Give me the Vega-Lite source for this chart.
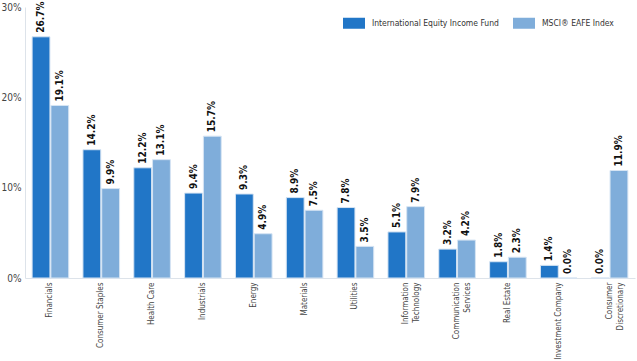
{
  "$schema": "https://vega.github.io/schema/vega-lite/v6.json",
  "autosize": "none",
  "width": 610,
  "height": 271,
  "padding": {"left": 25, "top": 7, "right": 2, "bottom": 83},
  "background": "white",
  "config": {
    "view": {"stroke": null},
    "font": "DejaVu Sans Condensed, Roboto, sans-serif",
    "axis": {"labelFont": "DejaVu Sans Condensed, Roboto, sans-serif", "labelColor": "#444", "labelFontSize": 8}
  },
  "data": {
    "values": [
      {"sector": "Financials", "series": "International Equity Income Fund", "value": 0.267},
      {"sector": "Financials", "series": "MSCI® EAFE Index", "value": 0.191},
      {"sector": "Consumer Staples", "series": "International Equity Income Fund", "value": 0.142},
      {"sector": "Consumer Staples", "series": "MSCI® EAFE Index", "value": 0.099},
      {"sector": "Health Care", "series": "International Equity Income Fund", "value": 0.122},
      {"sector": "Health Care", "series": "MSCI® EAFE Index", "value": 0.131},
      {"sector": "Industrials", "series": "International Equity Income Fund", "value": 0.094},
      {"sector": "Industrials", "series": "MSCI® EAFE Index", "value": 0.157},
      {"sector": "Energy", "series": "International Equity Income Fund", "value": 0.093},
      {"sector": "Energy", "series": "MSCI® EAFE Index", "value": 0.049},
      {"sector": "Materials", "series": "International Equity Income Fund", "value": 0.089},
      {"sector": "Materials", "series": "MSCI® EAFE Index", "value": 0.075},
      {"sector": "Utilities", "series": "International Equity Income Fund", "value": 0.078},
      {"sector": "Utilities", "series": "MSCI® EAFE Index", "value": 0.035},
      {"sector": "Information Technology", "series": "International Equity Income Fund", "value": 0.051},
      {"sector": "Information Technology", "series": "MSCI® EAFE Index", "value": 0.079},
      {"sector": "Communication Services", "series": "International Equity Income Fund", "value": 0.032},
      {"sector": "Communication Services", "series": "MSCI® EAFE Index", "value": 0.042},
      {"sector": "Real Estate", "series": "International Equity Income Fund", "value": 0.018},
      {"sector": "Real Estate", "series": "MSCI® EAFE Index", "value": 0.023},
      {"sector": "Investment Company", "series": "International Equity Income Fund", "value": 0.014},
      {"sector": "Investment Company", "series": "MSCI® EAFE Index", "value": 0.0},
      {"sector": "Consumer Discretionary", "series": "International Equity Income Fund", "value": 0.0},
      {"sector": "Consumer Discretionary", "series": "MSCI® EAFE Index", "value": 0.119}
    ]
  },
  "encoding": {
    "x": {
      "field": "sector", "type": "nominal", "sort": null,
      "scale": {"paddingInner": 0.28, "paddingOuter": 0.14},
      "axis": {
        "title": null, "labelAngle": -90, "labelAlign": "right", "labelBaseline": "middle",
        "labelPadding": 4, "ticks": false, "domainColor": "#dde3ea",
        "labelExpr": "length(datum.label) > 20 ? split(datum.label, ' ') : datum.label",
        "labelLineHeight": 11
      }
    },
    "xOffset": {"field": "series", "type": "nominal", "sort": null, "scale": {"paddingInner": 0.05}},
    "y": {
      "field": "value", "type": "quantitative",
      "scale": {"domain": [0, 0.3]},
      "axis": {
        "title": null, "format": ".0%", "values": [0, 0.1, 0.2, 0.3], "grid": false,
        "ticks": false, "domainColor": "#dde3ea", "labelPadding": 4, "labelFontSize": 10
      }
    }
  },
  "layer": [
    {
      "mark": {"type": "bar", "stroke": "#d6e4f3", "strokeWidth": 1},
      "encoding": {
        "color": {
          "field": "series", "type": "nominal", "sort": null,
          "scale": {"range": ["#2176c7", "#7fadda"]},
          "legend": {
            "title": null, "orient": "none", "legendX": 318, "legendY": 5,
            "direction": "horizontal",
            "symbolType": "M-1,-0.5H1V0.5H-1Z", "symbolSize": 484,
            "symbolStrokeWidth": 0,
            "labelFontSize": 8.5, "labelColor": "#333", "labelOffset": 7,
            "columnPadding": 14, "labelFont": "DejaVu Sans Condensed, Roboto, sans-serif"
          }
        }
      }
    },
    {
      "mark": {"type": "text", "angle": -90, "align": "left", "baseline": "middle", "dx": 4, "fontWeight": "bold", "fontSize": 10, "color": "#111"},
      "encoding": {
        "text": {"field": "value", "type": "quantitative", "format": ".1%"}
      }
    }
  ]
}
